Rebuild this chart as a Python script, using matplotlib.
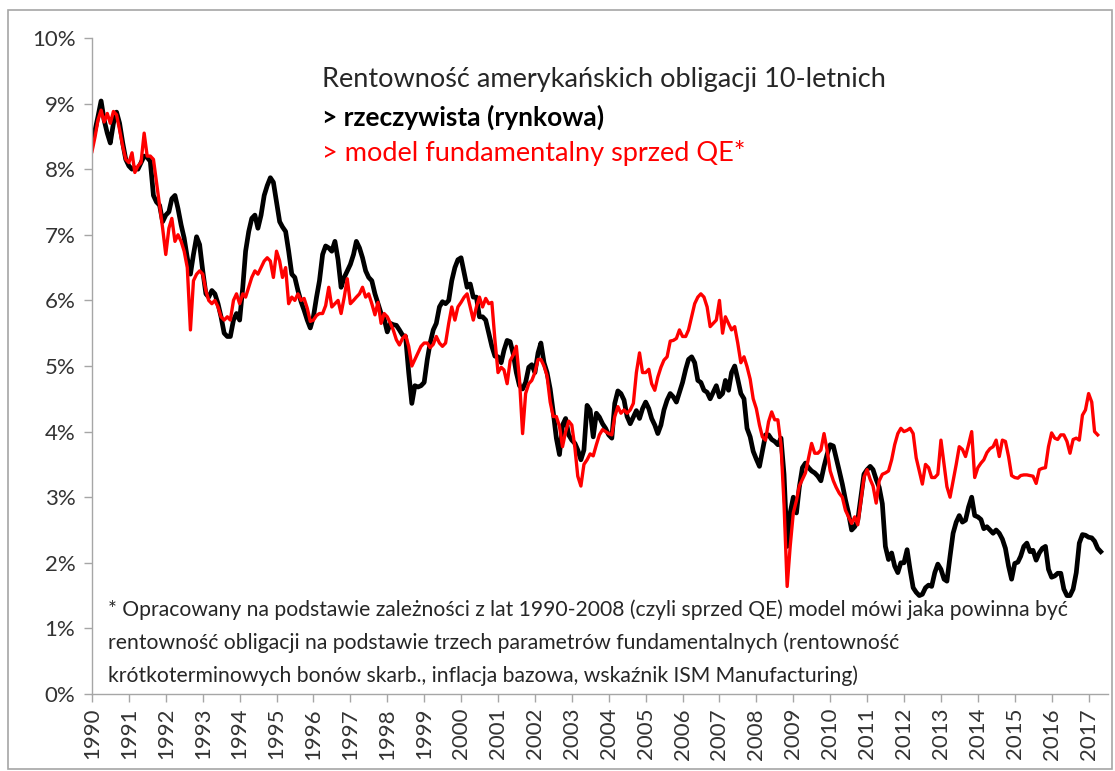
import numpy as np
import pandas as pd
import matplotlib
matplotlib.use("Agg")
import matplotlib.pyplot as plt
from matplotlib.patches import Rectangle

plt.rcParams['font.family'] = ['Lato', 'DejaVu Sans']

# Monthly 10Y US Treasury yield (%), Jan 1990 - May 2017
actual = [
    8.45, 8.6, 8.8, 9.04, 8.75, 8.55, 8.4, 8.7, 8.87, 8.7, 8.4, 8.15,          # 1990
    8.05, 8.0, 8.02, 8.0, 8.1, 8.2, 8.18, 8.12, 7.6, 7.5, 7.45, 7.2,           # 1991
    7.3, 7.35, 7.55, 7.6, 7.4, 7.15, 6.95, 6.65, 6.4, 6.7, 6.97, 6.85,         # 1992
    6.45, 6.1, 6.05, 6.15, 6.1, 5.95, 5.75, 5.5, 5.45, 5.45, 5.7, 5.8,         # 1993
    5.7, 6.2, 6.75, 7.05, 7.25, 7.3, 7.1, 7.3, 7.6, 7.75, 7.87, 7.8,           # 1994
    7.5, 7.2, 7.12, 7.05, 6.75, 6.4, 6.35, 6.15, 5.98, 5.85, 5.7, 5.58,        # 1995
    5.75, 6.05, 6.3, 6.7, 6.83, 6.8, 6.75, 6.9, 6.62, 6.2, 6.35, 6.45,         # 1996
    6.55, 6.7, 6.9, 6.8, 6.65, 6.45, 6.35, 6.3, 6.1, 5.95, 5.8, 5.72,          # 1997
    5.52, 5.65, 5.63, 5.62, 5.55, 5.47, 5.45, 4.9, 4.43, 4.7, 4.68, 4.7,       # 1998
    4.75, 5.1, 5.35, 5.55, 5.65, 5.9, 5.98, 5.95, 6.0, 6.3, 6.5, 6.62,         # 1999
    6.65, 6.42, 6.2, 6.25, 6.05, 6.05, 5.75, 5.75, 5.7, 5.5, 5.3, 5.15,        # 2000
    5.14, 5.05, 5.24, 5.39, 5.37, 5.18, 4.9, 4.7, 4.65, 4.75, 4.98, 5.02,      # 2001
    4.9, 5.2, 5.35, 5.05, 4.9, 4.65, 4.3, 3.9, 3.65, 4.1, 4.2, 3.95,           # 2002
    3.87, 3.82, 3.72, 3.57, 3.72, 4.4, 4.33, 3.92, 4.28, 4.22, 4.12, 4.05,     # 2003
    3.95, 3.9, 4.43, 4.62, 4.58, 4.48, 4.23, 4.12, 4.22, 4.32, 4.2, 4.35,      # 2004
    4.45, 4.35, 4.2, 4.1, 3.97, 4.1, 4.33, 4.48, 4.58, 4.53, 4.45, 4.6,        # 2005
    4.75, 4.95, 5.1, 5.14, 5.05, 4.78, 4.75, 4.63, 4.6, 4.5, 4.6, 4.7,         # 2006
    4.53, 4.58, 4.78, 4.63, 4.9, 5.0, 4.8, 4.58, 4.5, 4.05, 3.92, 3.7,         # 2007
    3.58, 3.47, 3.7, 3.95, 3.95, 3.88, 3.85, 3.8, 3.9, 3.35, 2.25, 2.76,       # 2008
    3.0, 2.76, 3.15, 3.45, 3.52, 3.45, 3.4, 3.37, 3.32, 3.25, 3.47, 3.65,      # 2009
    3.8, 3.78, 3.6, 3.4, 3.2, 2.96, 2.76, 2.5, 2.55, 2.65, 3.0, 3.35,          # 2010
    3.42, 3.47, 3.42, 3.27, 3.15, 2.9, 2.25, 2.05, 2.15, 1.95, 1.85, 2.0,      # 2011
    2.0, 2.2, 1.9, 1.62, 1.55, 1.5, 1.52, 1.62, 1.66, 1.64, 1.85, 1.98,        # 2012
    1.9, 1.75, 1.72, 2.1, 2.45, 2.62, 2.72, 2.62, 2.65, 2.85, 3.0, 2.72,       # 2013
    2.7, 2.66, 2.52, 2.55, 2.5, 2.45, 2.5, 2.45, 2.36, 2.22, 1.95, 1.75,       # 2014
    1.99, 2.01, 2.1, 2.25, 2.3, 2.17, 2.19, 2.04, 2.15, 2.22, 2.25, 1.9,       # 2015
    1.78, 1.8, 1.84, 1.84, 1.6, 1.5, 1.5, 1.6, 1.85, 2.3, 2.43, 2.42,          # 2016
    2.39, 2.38, 2.33, 2.22, 2.17,                                              # 2017
]

# Pre-QE fundamental model (%), Jan 1990 - Apr 2017
model = [
    8.27, 8.5, 8.75, 8.9, 8.72, 8.85, 8.7, 8.88, 8.83, 8.6, 8.35, 8.15,        # 1990
    8.1, 8.25, 7.95, 8.05, 8.1, 8.55, 8.2, 8.2, 8.15, 7.8, 7.45, 7.1,          # 1991
    6.7, 7.1, 7.25, 6.9, 7.0, 6.9, 6.75, 6.5, 5.55, 6.3, 6.4, 6.45,            # 1992
    6.4, 6.15, 6.0, 5.95, 6.0, 5.9, 5.75, 5.7, 5.75, 5.7, 6.0, 6.1,            # 1993
    5.95, 6.1, 6.05, 6.2, 6.35, 6.45, 6.4, 6.5, 6.6, 6.65, 6.6, 6.35,          # 1994
    6.75, 6.6, 6.35, 6.5, 5.95, 6.05, 6.0, 6.1, 6.0, 6.03, 5.88, 5.68,         # 1995
    5.7, 5.77, 5.8, 5.8, 5.92, 6.2, 5.9, 5.95, 6.0, 5.8, 6.05, 6.33,           # 1996
    5.95, 6.0, 6.05, 6.1, 6.2, 6.05, 6.1, 5.95, 5.78, 5.97, 5.65, 5.8,         # 1997
    5.75, 5.65, 5.55, 5.4, 5.32, 5.42, 5.47, 5.3, 5.0, 5.1, 5.2, 5.3,          # 1998
    5.35, 5.35, 5.28, 5.33, 5.45, 5.35, 5.3, 5.35, 5.65, 5.9, 5.7, 5.9,        # 1999
    5.97, 6.05, 6.1, 5.9, 5.7, 5.9, 6.05, 5.9, 6.03, 5.95, 5.97, 5.4,          # 2000
    4.9, 4.98, 4.94, 4.73, 5.08, 5.17, 5.3, 4.8, 3.97, 4.58, 4.73, 4.78,       # 2001
    4.9, 5.1, 5.1, 5.0, 4.85, 4.45, 4.23, 4.23, 4.08, 3.77, 4.0, 4.16,         # 2002
    4.1, 3.75, 3.32, 3.17, 3.5, 3.57, 3.66, 3.63, 3.8, 3.95, 4.03, 4.0,        # 2003
    3.97, 3.95, 4.23, 4.38, 4.28, 4.33, 4.28, 4.33, 4.43, 4.9, 5.2, 4.9,       # 2004
    4.9, 4.95, 4.73, 4.63, 4.83, 4.98, 5.09, 5.14, 5.38, 5.39, 5.42, 5.55,     # 2005
    5.45, 5.45, 5.55, 5.75, 5.95, 6.05, 6.1, 6.05, 5.9, 5.6, 5.65, 5.7,        # 2006
    6.0, 5.5, 5.75, 5.65, 5.55, 5.6, 5.35, 5.05, 5.14, 4.99, 4.8, 4.5,         # 2007
    4.35, 4.1, 3.92, 3.87, 4.15, 4.3, 4.18, 4.18, 3.8, 2.9, 1.64, 2.25,        # 2008
    2.76, 2.95, 3.17, 3.27, 3.37, 3.6, 3.82, 3.67, 3.67, 3.72, 3.97, 3.72,     # 2009
    3.4, 3.25, 3.15, 3.06, 3.0, 2.8, 2.7, 2.6, 2.7, 2.58, 2.95, 3.3,           # 2010
    3.42, 3.27, 3.17, 2.91, 3.25, 3.35, 3.37, 3.4, 3.57, 3.8, 3.97, 4.05,      # 2011
    4.0, 4.02, 4.05, 3.97, 3.6, 3.4, 3.2, 3.5, 3.45, 3.3, 3.3, 3.35,           # 2012
    3.87, 3.5, 3.16, 3.0, 3.25, 3.5, 3.77, 3.73, 3.62, 3.8, 4.0, 3.3,          # 2013
    3.45, 3.52, 3.57, 3.68, 3.74, 3.77, 3.87, 3.62, 3.87, 3.85, 3.62, 3.33,    # 2014
    3.3, 3.29, 3.33, 3.34, 3.34, 3.33, 3.32, 3.21, 3.42, 3.44, 3.45, 3.77,     # 2015
    3.98, 3.9, 3.88, 3.95, 3.95, 3.85, 3.67, 3.88, 3.9, 3.87, 4.25, 4.33,      # 2016
    4.58, 4.45, 4.0, 3.95,                                                     # 2017
]

years = list(range(1990, 2018))
y_ticks = list(range(0, 11))

title_lines = [
    "Rentowność amerykańskich obligacji 10-letnich",
    "> rzeczywista (rynkowa)",
    "> model fundamentalny sprzed QE*",
]
note_lines = [
    "* Opracowany na podstawie zależności z lat 1990-2008 (czyli sprzed QE) model mówi jaka powinna być",
    "rentowność obligacji na podstawie trzech parametrów fundamentalnych (rentowność",
    "krótkoterminowych bonów skarb., inflacja bazowa, wskaźnik ISM Manufacturing)",
]

dates = pd.date_range("1990-01-01", periods=len(actual), freq="MS")

fig = plt.figure(figsize=(11.15, 7.71), dpi=100)
ax = fig.add_axes([92 / 1115, 1 - 694 / 771, (1108 - 92) / 1115, (694 - 38) / 771])

ax.plot(dates, actual, color="black", lw=3.4, solid_joinstyle="round")
ax.plot(dates[:len(model)], model, color="#ff0000", lw=2.4, solid_joinstyle="round")

ax.set_ylim(0, 10)
ax.set_yticks(y_ticks)
ax.set_yticklabels([f"{v}%" for v in y_ticks])
ax.set_xlim(pd.Timestamp("1990-01-01"), pd.Timestamp("2017-07-12"))
ax.set_xticks([pd.Timestamp(f"{y}-01-01") for y in years])
ax.set_xticklabels([str(y) for y in years], rotation=90)

for s in ["top", "right"]:
    ax.spines[s].set_visible(False)
for s in ["left", "bottom"]:
    ax.spines[s].set_color("#a6a6a6")
    ax.spines[s].set_linewidth(1.0)
ax.tick_params(axis="both", colors="#a6a6a6", labelcolor="#333333", labelsize=16, length=6, width=1)
ax.tick_params(axis="y", pad=6)
ax.tick_params(axis="x", pad=4)

# title block
tx = 322 / 1115
fig.text(tx, 1 - 80 / 771, title_lines[0], fontsize=19.5, color="#262626", va="center")
fig.text(tx, 1 - 117 / 771, title_lines[1], fontsize=19, color="black", fontweight="bold", va="center")
fig.text(tx, 1 - 153 / 771, title_lines[2], fontsize=19.5, color="#ff0000", va="center")

# footnote
for i, line in enumerate(note_lines):
    fig.text(108 / 1115, 1 - (610 + 33 * i) / 771, line, fontsize=15.2, color="#262626", va="center")

# outer frame
fig.patches.append(Rectangle((8 / 1115, 2 / 771), 1104 / 1115, 759 / 771, transform=fig.transFigure,
                             fill=False, edgecolor="#a6a6a6", lw=1.2))

fig.savefig("out.png", dpi=100)
